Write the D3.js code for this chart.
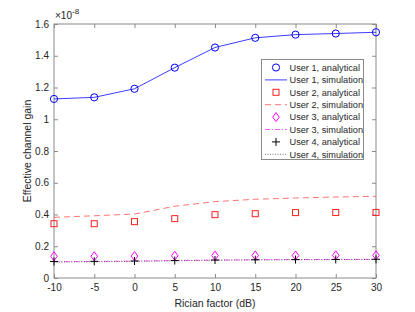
<!DOCTYPE html>
<html><head><meta charset="utf-8">
<script src="https://cdn.jsdelivr.net/npm/d3@7"></script>
<style>body{margin:0;background:#fff}svg{display:block}text{font-family:"Liberation Sans",Arial,sans-serif}</style>
</head><body>
<script>
const xVals = [-10, -5, 0, 5, 10, 15, 20, 25, 30];
const user1Analytical = [1.128, 1.138, 1.192, 1.325, 1.452, 1.513, 1.533, 1.540, 1.548];
const user1Simulation = [1.128, 1.138, 1.192, 1.325, 1.452, 1.513, 1.533, 1.540, 1.548];
const user2Analytical = [0.342, 0.342, 0.355, 0.374, 0.399, 0.405, 0.412, 0.413, 0.413];
const user2Simulation = [0.382, 0.392, 0.403, 0.452, 0.481, 0.496, 0.504, 0.510, 0.515];
const user3Analytical = [0.137, 0.137, 0.138, 0.140, 0.141, 0.142, 0.142, 0.143, 0.143];
const user3Simulation = [0.103, 0.104, 0.107, 0.110, 0.113, 0.115, 0.116, 0.117, 0.118];
const user4Analytical = [0.104, 0.105, 0.107, 0.110, 0.113, 0.115, 0.116, 0.117, 0.118];
const user4Simulation = [0.100, 0.102, 0.105, 0.108, 0.112, 0.114, 0.115, 0.116, 0.117];
const xTicks = [-10, -5, 0, 5, 10, 15, 20, 25, 30];
const yTicks = [0, 0.2, 0.4, 0.6, 0.8, 1, 1.2, 1.4, 1.6];
const legendLabels = ["User 1, analytical","User 1, simulation","User 2, analytical","User 2, simulation","User 3, analytical","User 3, simulation","User 4, analytical","User 4, simulation"];

const W = 415, H = 312;
const m = {l: 54, r: 39, t: 24, b: 34};
const svg = d3.select("body").append("svg").attr("width", W).attr("height", H);
const x = d3.scaleLinear().domain([-10, 30]).range([m.l, W - m.r]);
const y = d3.scaleLinear().domain([0, 1.6]).range([H - m.b, m.t]);
const axisCol = "#8a8a8a", textCol = "#262626";

svg.append("rect").attr("x", x(-10)).attr("y", y(1.6)).attr("width", x(30) - x(-10)).attr("height", y(0) - y(1.6))
  .attr("fill", "none").attr("stroke", axisCol).attr("stroke-width", 1);

function styleAxis(g){ g.select(".domain").remove(); g.selectAll(".tick line").attr("stroke", axisCol);
  g.selectAll(".tick text").attr("fill", textCol).attr("font-size", 10); }
svg.append("g").attr("transform", `translate(0,${y(0)})`)
  .call(d3.axisBottom(x).tickValues(xTicks).tickSizeInner(-4).tickSizeOuter(0).tickPadding(6).tickFormat(d => String(d)))
  .call(styleAxis);
svg.append("g").attr("transform", `translate(0,${y(1.6)})`)
  .call(d3.axisTop(x).tickValues(xTicks).tickSizeInner(-4).tickSizeOuter(0).tickFormat(""))
  .call(styleAxis);
svg.append("g").attr("transform", `translate(${x(-10)},0)`)
  .call(d3.axisLeft(y).tickValues(yTicks).tickSizeInner(-4).tickSizeOuter(0).tickPadding(5).tickFormat(d => d === 0 ? "0" : d === 1 ? "1" : d3.format(".1f")(d)))
  .call(styleAxis);
svg.append("g").attr("transform", `translate(${x(30)},0)`)
  .call(d3.axisRight(y).tickValues(yTicks).tickSizeInner(-4).tickSizeOuter(0).tickFormat(""))
  .call(styleAxis);

const ex = svg.append("text").attr("x", x(-10) + 1).attr("y", y(1.6) - 5).attr("fill", textCol).attr("font-size", 10);
ex.append("tspan").text("\u00d710");
ex.append("tspan").attr("font-size", 8).attr("dy", -5).text("-8");

svg.append("text").attr("x", (x(-10) + x(30)) / 2).attr("y", H - 5).attr("text-anchor", "middle")
  .attr("fill", textCol).attr("font-size", 10.5).text("Rician factor (dB)");
svg.append("text").attr("transform", `translate(${27},${(y(0) + y(1.6)) / 2}) rotate(-90)`)
  .attr("text-anchor", "middle").attr("dy", "0.35em").attr("fill", textCol).attr("font-size", 10.5).text("Effective channel gain");

const line = d3.line().x((d, i) => x(xVals[i])).y(d => y(d));
const series = [
  {a: user1Analytical, s: user1Simulation, col: "#0000ff", sym: "circle", dash: null},
  {a: user2Analytical, s: user2Simulation, col: "#ff2020", sym: "square", dash: "6,4"},
  {a: user3Analytical, s: user3Simulation, col: "#ff00ff", sym: "diamond", dash: "5,2,1,2"},
  {a: user4Analytical, s: user4Simulation, col: "#000000", sym: "plus", dash: "1,1.5"},
];
const simOpacity = [0.85, 0.7, 0.7, 0.6];

function marker(g, sym, col, cx, cy){
  if (sym === "circle") g.append("circle").attr("cx", cx).attr("cy", cy).attr("r", 3.6).attr("fill", "none").attr("stroke", col).attr("stroke-width", 1);
  else if (sym === "square") g.append("rect").attr("x", cx - 3).attr("y", cy - 3).attr("width", 6).attr("height", 6).attr("fill", "none").attr("stroke", col).attr("stroke-width", 1);
  else if (sym === "diamond") g.append("path").attr("d", `M${cx},${cy-4.5}L${cx+3.3},${cy}L${cx},${cy+4.5}L${cx-3.3},${cy}Z`).attr("fill", "none").attr("stroke", col).attr("stroke-width", 1);
  else g.append("path").attr("d", `M${cx-4},${cy}H${cx+4}M${cx},${cy-4}V${cy+4}`).attr("fill", "none").attr("stroke", col).attr("stroke-width", 1);
}

series.forEach((sr, k) => {
  svg.append("path").attr("d", line(sr.s)).attr("fill", "none").attr("stroke", sr.col)
    .attr("stroke-width", 0.9).attr("stroke-opacity", simOpacity[k]).attr("stroke-dasharray", sr.dash);
});
series.forEach(sr => {
  const g = svg.append("g");
  sr.a.forEach((v, i) => marker(g, sr.sym, sr.col, x(xVals[i]), y(v)));
});

const lg = svg.append("g");
lg.append("rect").attr("x", 261.5).attr("y", 59.5).attr("width", 102).attr("height", 100)
  .attr("fill", "#fff").attr("stroke", axisCol).attr("stroke-width", 1);
legendLabels.forEach((lab, i) => {
  const cy = 67.5 + i * 12.4;
  const k = Math.floor(i / 2);
  const sr = series[k];
  if (i % 2 === 0) marker(lg, sr.sym, sr.col, 276, cy);
  else lg.append("line").attr("x1", 265).attr("x2", 287).attr("y1", cy).attr("y2", cy).attr("stroke", sr.col)
    .attr("stroke-width", 0.9).attr("stroke-opacity", simOpacity[k]).attr("stroke-dasharray", sr.dash);
  lg.append("text").attr("x", 289.5).attr("y", cy).attr("dy", "0.35em").attr("fill", textCol).attr("font-size", 9.2).text(lab);
});
</script>
</body></html>
